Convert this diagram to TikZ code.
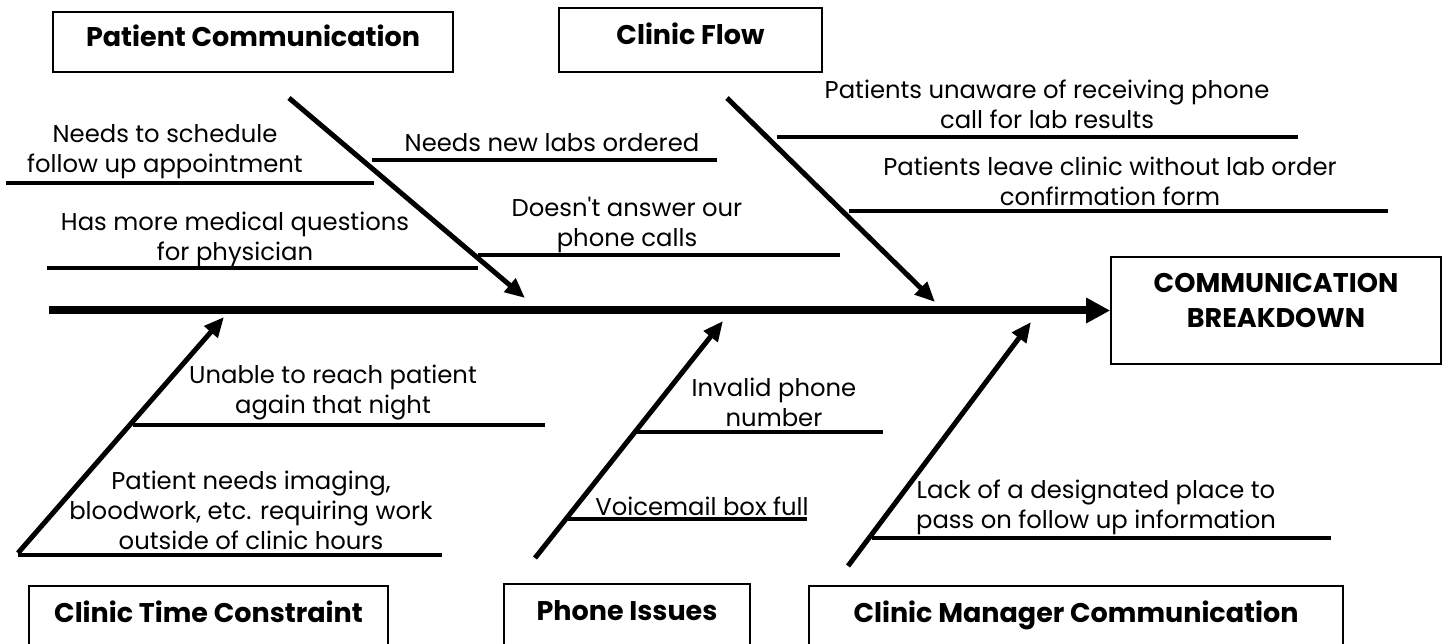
\documentclass[tikz,border=0pt]{standalone}
\usepackage{fontspec}
\setmainfont{Poppins}[Ligatures=TeXOff]
\usetikzlibrary{arrows.meta}

\begin{document}
\begin{tikzpicture}[x=1pt,y=-1pt,
  catbox/.style={draw,line width=1.6pt,inner sep=0pt,align=center,
    font=\bfseries\fontsize{27}{35}\selectfont,text height=18pt,text depth=9pt},
  cause/.style={inner sep=0pt,align=center,font=\fontsize{24.3}{30}\selectfont},
  bone/.style={line width=5pt,-{Triangle[length=20pt,width=17pt]}},
  rib/.style={line width=3.6pt},
  spine/.style={line width=8pt,-{Triangle[length=24pt,width=24pt]}}]
  \useasboundingbox (0,0) rectangle (1446,644);

  \node[catbox,minimum width=400pt,minimum height=60pt] (pc) at (253,42) {Patient Communication};
  \node[catbox,minimum width=263pt,minimum height=64pt] (cf) at (690.5,40) {Clinic Flow};
  \node[catbox,minimum width=330pt,minimum height=107pt,text height=53pt,text depth=20pt] (cb) at (1276,310.5) {COMMUNICATION\\BREAKDOWN};
  \node[catbox,minimum width=359pt,minimum height=64pt] (ctc) at (208.5,618) {Clinic Time Constraint};
  \node[catbox,minimum width=246pt,minimum height=64pt] (ph) at (627,616) {Phone Issues};
  \node[catbox,minimum width=534pt,minimum height=64pt] (cm) at (1076,618) {Clinic Manager Communication};

  \coordinate (tail) at (49,310.5);
  \draw[spine] (tail) -- (cb.west);

  \coordinate (pcS) at (289,98);
  \coordinate (pcT) at (525,298);
  \coordinate (cfS) at (727,98);
  \coordinate (cfT) at (935,302);
  \coordinate (ctcS) at (18,553);
  \coordinate (ctcT) at (224,317);
  \coordinate (phS) at (535,558);
  \coordinate (phT) at (723,321);
  \coordinate (cmS) at (848,566);
  \coordinate (cmT) at (1031,322);
  \draw[bone] (pcS) -- (pcT);
  \draw[bone] (cfS) -- (cfT);
  \draw[bone] (ctcS) -- (ctcT);
  \draw[bone] (phS) -- (phT);
  \draw[bone] (cmS) -- (cmT);

  \draw[rib] (6,183) -- (374,183);
  \draw[rib] (47,268) -- (478,268);
  \draw[rib] (372,160) -- (717,160);
  \draw[rib] (478,255) -- (840,255);
  \draw[rib] (777,137) -- (1298,137);
  \draw[rib] (849,211) -- (1388,211);
  \draw[rib] (133,425) -- (545,425);
  \draw[rib] (18,555) -- (442,555);
  \draw[rib] (637,432) -- (883,432);
  \draw[rib] (568,519) -- (807,519);
  \draw[rib] (872,538) -- (1331,538);

  \node[cause] (sched) at (165,152) {Needs to schedule\\follow up appointment};
  \node[cause] (quest) at (235,239) {Has more medical questions\\for physician};
  \node[cause] (labs) at (552,143) {Needs new labs ordered};
  \node[cause] (calls) at (627,225) {Doesn't answer our\\phone calls};
  \node[cause] (unaware) at (1047,104) {Patients unaware of receiving phone\\call for lab results};
  \node[cause] (leave) at (1110,181.5) {Patients leave clinic without lab order\\confirmation form};
  \node[cause] (night) at (333,393) {Unable to reach patient\\again that night};
  \node[cause] (hours) at (251,510) {Patient needs imaging,\\bloodwork, etc. requiring work\\outside of clinic hours};
  \node[cause] (invalid) at (774,402.5) {Invalid phone\\number};
  \node[cause] (voice) at (702,506) {Voicemail box full};
  \node[cause] (lack) at (1096,507) {Lack of a designated place to\\pass on follow up information};
\end{tikzpicture}
\end{document}
